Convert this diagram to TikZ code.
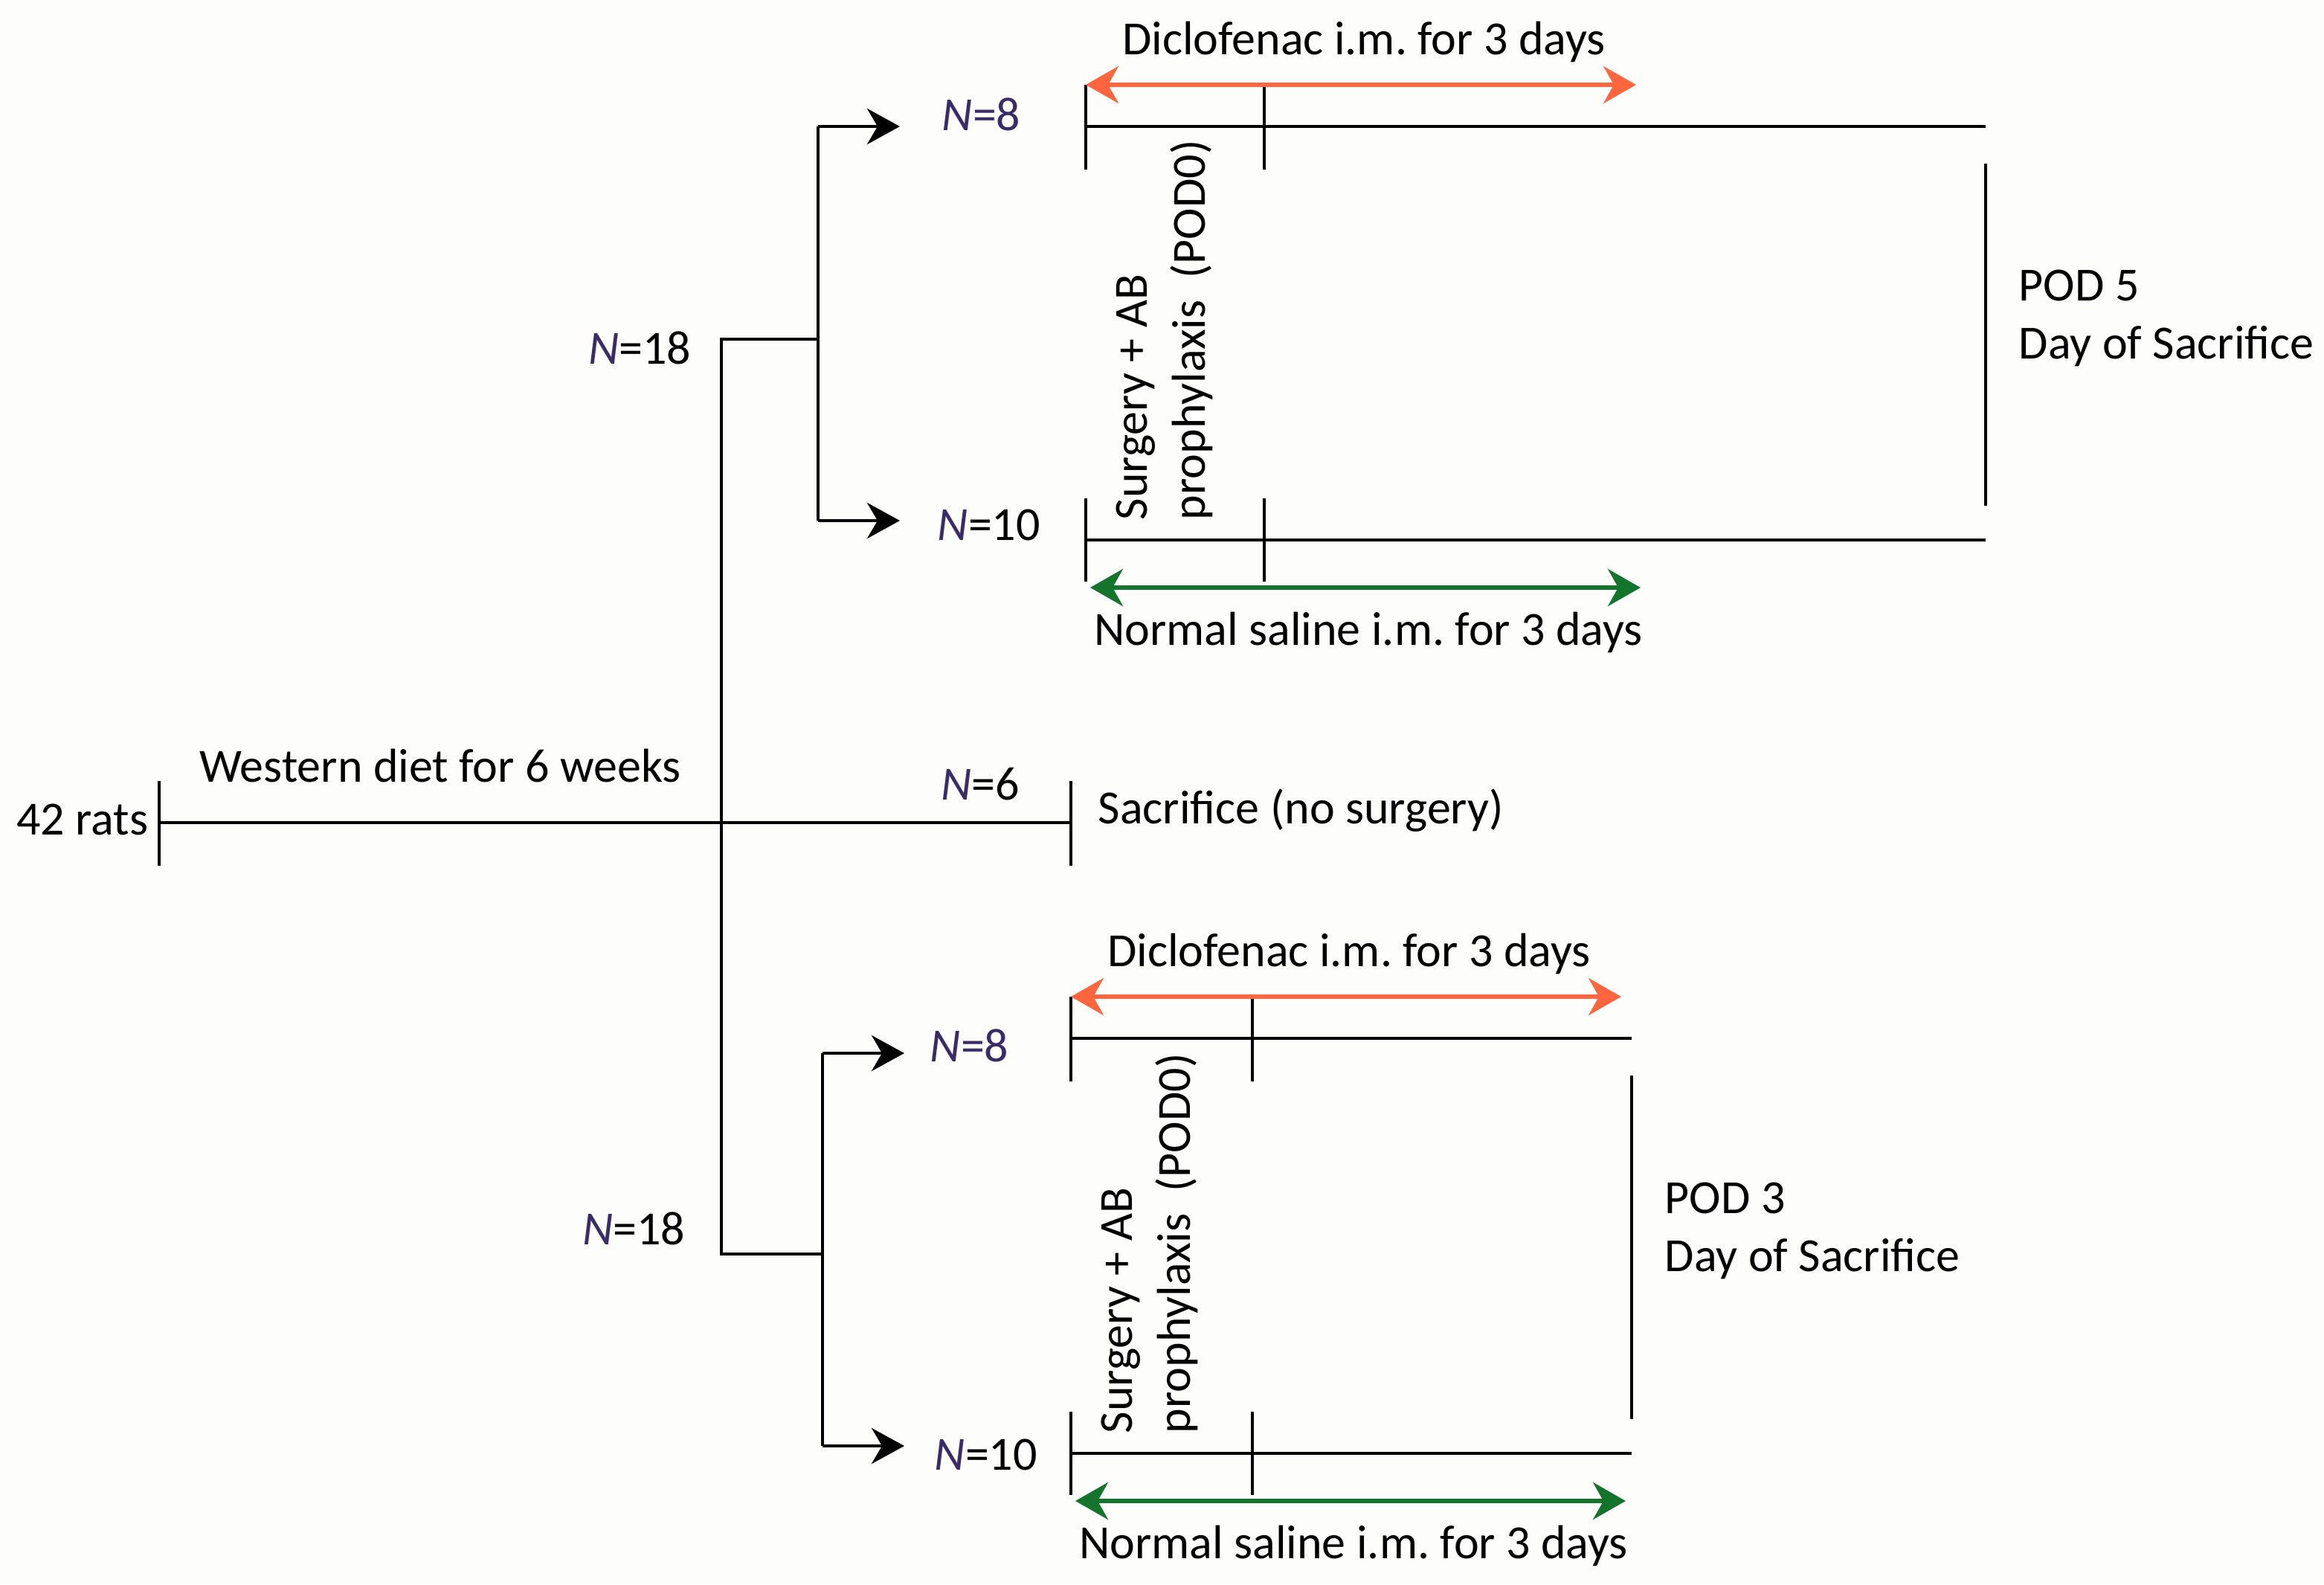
\documentclass[tikz,border=0pt]{standalone}
\usepackage{fontspec}
\setmainfont{Carlito}
\usetikzlibrary{positioning, arrows.meta}
\definecolor{groupColor}{RGB}{58,44,104}
\definecolor{drugColor}{RGB}{255,102,64}
\definecolor{salineColor}{RGB}{20,116,44}
\definecolor{paperColor}{RGB}{253,253,251}
\tikzstyle{flowchart} = [x = .5pt, y = -.5pt, font=\fontsize{16}{19.5}\selectfont]
\tikzstyle{timeLine} = [color=black, line width=1.2pt]
\tikzstyle{branchArrow} = [timeLine, -{Stealth[length=11pt, width=12pt, inset=3.5pt]}]
\tikzstyle{doseArrow} = [line width=1.3pt, {Stealth[length=11pt, width=12.5pt, inset=3.5pt]}-{Stealth[length=11pt, width=12.5pt, inset=3.5pt]}]
\tikzstyle{plainText} = [inner sep=0pt]
\newcommand{\groupLabel}[1]{\textcolor{groupColor}{\textit{N}}=#1}
\newcommand{\tick}[3]{\draw [timeLine] (#1, #2) -- (#1, #3);}
\newcommand{\treatmentArm}[7]{
  % drug group on top, saline group below
  \coordinate (#1DrugStart) at (#2, #5);
  \coordinate (#1DrugEnd) at (#4, #5);
  \coordinate (#1SalineStart) at (#2, #6);
  \coordinate (#1SalineEnd) at (#4, #6);
  \draw [timeLine] (#1DrugStart) -- (#1DrugEnd);
  \draw [timeLine] (#1SalineStart) -- (#1SalineEnd);
  \tick{#2}{#5 - 28}{#5 + 29}
  \tick{#3}{#5 - 28}{#5 + 29}
  \tick{#2}{#6 - 28}{#6 + 28}
  \tick{#3}{#6 - 28}{#6 + 28}
  \coordinate (#1DrugArrowLeft) at (#2, #5 - 28);
  \coordinate (#1DrugArrowRight) at (#2 + 370, #5 - 28);
  \coordinate (#1SalineArrowLeft) at (#2 + 3, #6 + 32);
  \coordinate (#1SalineArrowRight) at (#2 + 373, #6 + 32);
  \draw [doseArrow, drugColor] (#1DrugArrowLeft) -- (#1DrugArrowRight);
  \draw [doseArrow, salineColor] (#1SalineArrowLeft) -- (#1SalineArrowRight);
  \node [plainText] (#1DrugText) at (#2 + 187, #5 - 57) {Diclofenac i.m. for 3 days};
  \node [plainText] (#1SalineText) at (#2 + 190, #6 + 62) {Normal saline i.m. for 3 days};
  \node [plainText, rotate=90, anchor=north west, align=left] (#1Surgery) at (#2 + 20, #6 - 13) {Surgery + AB\\prophylaxis~~(POD0)};
  \coordinate (#1EndTop) at (#4, #5 + 25);
  \coordinate (#1EndBottom) at (#4, #6 - 23);
  \draw [timeLine] (#1EndTop) -- (#1EndBottom);
  \node [plainText, anchor=west, align=left] (#1Sacrifice) at (#4 + 22, #5 / 2 + #6 / 2 - 10) {POD #7\\Day of Sacrifice};
}

\begin{document}
\frenchspacing
\begin{tikzpicture}[flowchart]
  \fill [paperColor] (0,0) rectangle (1562.5,1065);
  \useasboundingbox (0,0) rectangle (1562.5,1065);

  % diet
  \coordinate (dietStart) at (107,553);
  \coordinate (trunkMid) at (485,553);
  \coordinate (noSurgeryEnd) at (720,553);
  \node [plainText, anchor=east] (rats) at (100,551) {42 rats};
  \node [plainText] (diet) at (296,515) {Western diet for 6 weeks};
  \draw [timeLine] (dietStart) -- (noSurgeryEnd);
  \tick{107}{525}{582}
  \tick{720}{525}{582}
  \node [plainText, anchor=east] (noSurgeryGroup) at (686,527) {\groupLabel{6}};
  \node [plainText, anchor=west] (noSurgery) at (738,545) {Sacrifice (no surgery)};

  % trunk
  \coordinate (trunkTop) at (485,228);
  \coordinate (trunkBottom) at (485,843);
  \coordinate (upperSplit) at (550,228);
  \coordinate (lowerSplit) at (553,843);
  \draw [timeLine] (upperSplit) -- (trunkTop) -- (trunkBottom) -- (lowerSplit);
  \node [plainText, anchor=east] (upperGroup) at (465,234) {\groupLabel{18}};
  \node [plainText, anchor=east] (lowerGroup) at (461,826) {\groupLabel{18}};

  % upper branch
  \coordinate (upperDrugFork) at (550,85);
  \coordinate (upperSalineFork) at (550,350);
  \coordinate (upperDrugTip) at (605,85);
  \coordinate (upperSalineTip) at (605,350);
  \draw [timeLine] (upperDrugFork) -- (upperSalineFork);
  \draw [branchArrow] (upperDrugFork) -- (upperDrugTip);
  \draw [branchArrow] (upperSalineFork) -- (upperSalineTip);
  \node [plainText, anchor=west] (upperDrugGroup) at (633,77) {\textcolor{groupColor}{\textit{N}=8}};
  \node [plainText, anchor=west] (upperSalineGroup) at (630,353) {\groupLabel{10}};

  % lower branch
  \coordinate (lowerDrugFork) at (553,708);
  \coordinate (lowerSalineFork) at (553,972);
  \coordinate (lowerDrugTip) at (608,708);
  \coordinate (lowerSalineTip) at (608,972);
  \draw [timeLine] (lowerDrugFork) -- (lowerSalineFork);
  \draw [branchArrow] (lowerDrugFork) -- (lowerDrugTip);
  \draw [branchArrow] (lowerSalineFork) -- (lowerSalineTip);
  \node [plainText, anchor=west] (lowerDrugGroup) at (625,703) {\textcolor{groupColor}{\textit{N}=8}};
  \node [plainText, anchor=west] (lowerSalineGroup) at (628,978) {\groupLabel{10}};

  \treatmentArm{upper}{730}{850}{1335}{85}{363}{5}
  \treatmentArm{lower}{720}{842}{1097}{698}{977}{3}
\end{tikzpicture}
\end{document}
